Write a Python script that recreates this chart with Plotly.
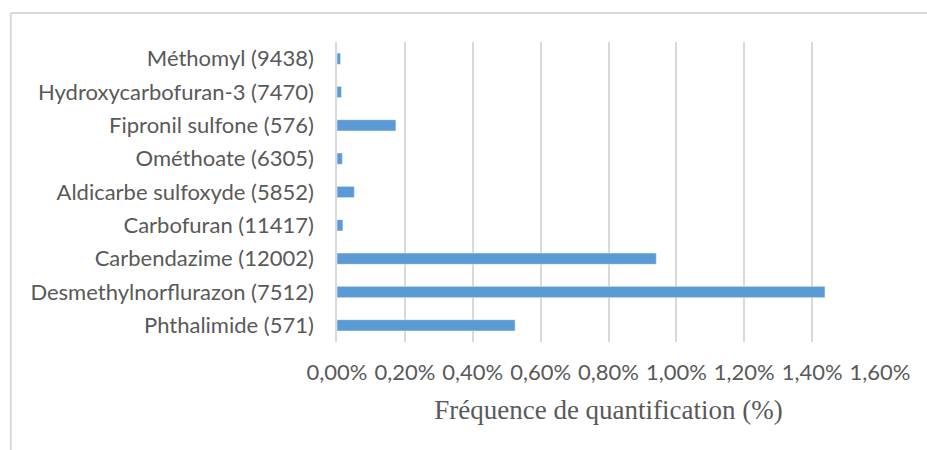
import plotly.graph_objects as go

# Pesticide (number of analyses) and quantification frequency in %
categories = [
    "Phthalimide (571)",
    "Desmethylnorflurazon (7512)",
    "Carbendazime (12002)",
    "Carbofuran (11417)",
    "Aldicarbe sulfoxyde (5852)",
    "Ométhoate (6305)",
    "Fipronil sulfone (576)",
    "Hydroxycarbofuran-3 (7470)",
    "Méthomyl (9438)",
]
frequency_pct = [0.525, 1.438, 0.941, 0.0175, 0.0513, 0.0159, 0.1736, 0.0134, 0.0106]

x_tick_values = [0.0, 0.2, 0.4, 0.6, 0.8, 1.0, 1.2, 1.4, 1.6]
x_tick_labels = ["0,00%", "0,20%", "0,40%", "0,60%", "0,80%", "1,00%", "1,20%", "1,40%", "1,60%"]

W, H = 927, 450
ML, MR, MT, MB = 336.5, 47, 42, 108

fig = go.Figure(
    go.Bar(
        x=frequency_pct,
        y=categories,
        orientation="h",
        marker=dict(color="#5b9bd5", line=dict(color="#ffffff", width=0.5)),
        width=0.34,
    )
)

fig.update_layout(
    width=W,
    height=H,
    margin=dict(l=ML, r=MR, t=MT, b=MB),
    paper_bgcolor="white",
    plot_bgcolor="white",
    showlegend=False,
    font=dict(family="Lato, sans-serif", color="#595959", size=22),
)

fig.update_xaxes(
    range=[0, 1.6],
    tickvals=x_tick_values,
    ticktext=x_tick_labels,
    showgrid=True,
    gridcolor="#d9d9d9",
    gridwidth=1.5,
    zeroline=False,
    showline=False,
    ticks="",
    ticklabelstandoff=15,
    tickfont=dict(size=22, color="#595959"),
    title=dict(
        text="Fréquence de quantification (%)",
        font=dict(family="Liberation Serif, serif", size=27, color="#595959"),
        standoff=16,
    ),
)

fig.update_yaxes(
    range=[-0.5, len(categories) - 0.5],
    showline=True,
    linecolor="#d9d9d9",
    linewidth=1.5,
    showgrid=False,
    ticks="",
    ticklabelstandoff=17,
    tickfont=dict(size=22, color="#595959"),
)

# Light frame around the chart area (clipped on the right and bottom)
def px_to_paper_x(px):
    return (px - ML) / (W - ML - MR)

def px_to_paper_y(py):
    return (H - MB - py) / (H - MT - MB)

fig.add_shape(
    type="line", xref="paper", yref="paper",
    x0=px_to_paper_x(10), x1=px_to_paper_x(930),
    y0=px_to_paper_y(13), y1=px_to_paper_y(13),
    line=dict(color="#d9d9d9", width=2),
)
fig.add_shape(
    type="line", xref="paper", yref="paper",
    x0=px_to_paper_x(10), x1=px_to_paper_x(10),
    y0=px_to_paper_y(13), y1=px_to_paper_y(455),
    line=dict(color="#d9d9d9", width=2),
)

fig.write_html("out.html")
